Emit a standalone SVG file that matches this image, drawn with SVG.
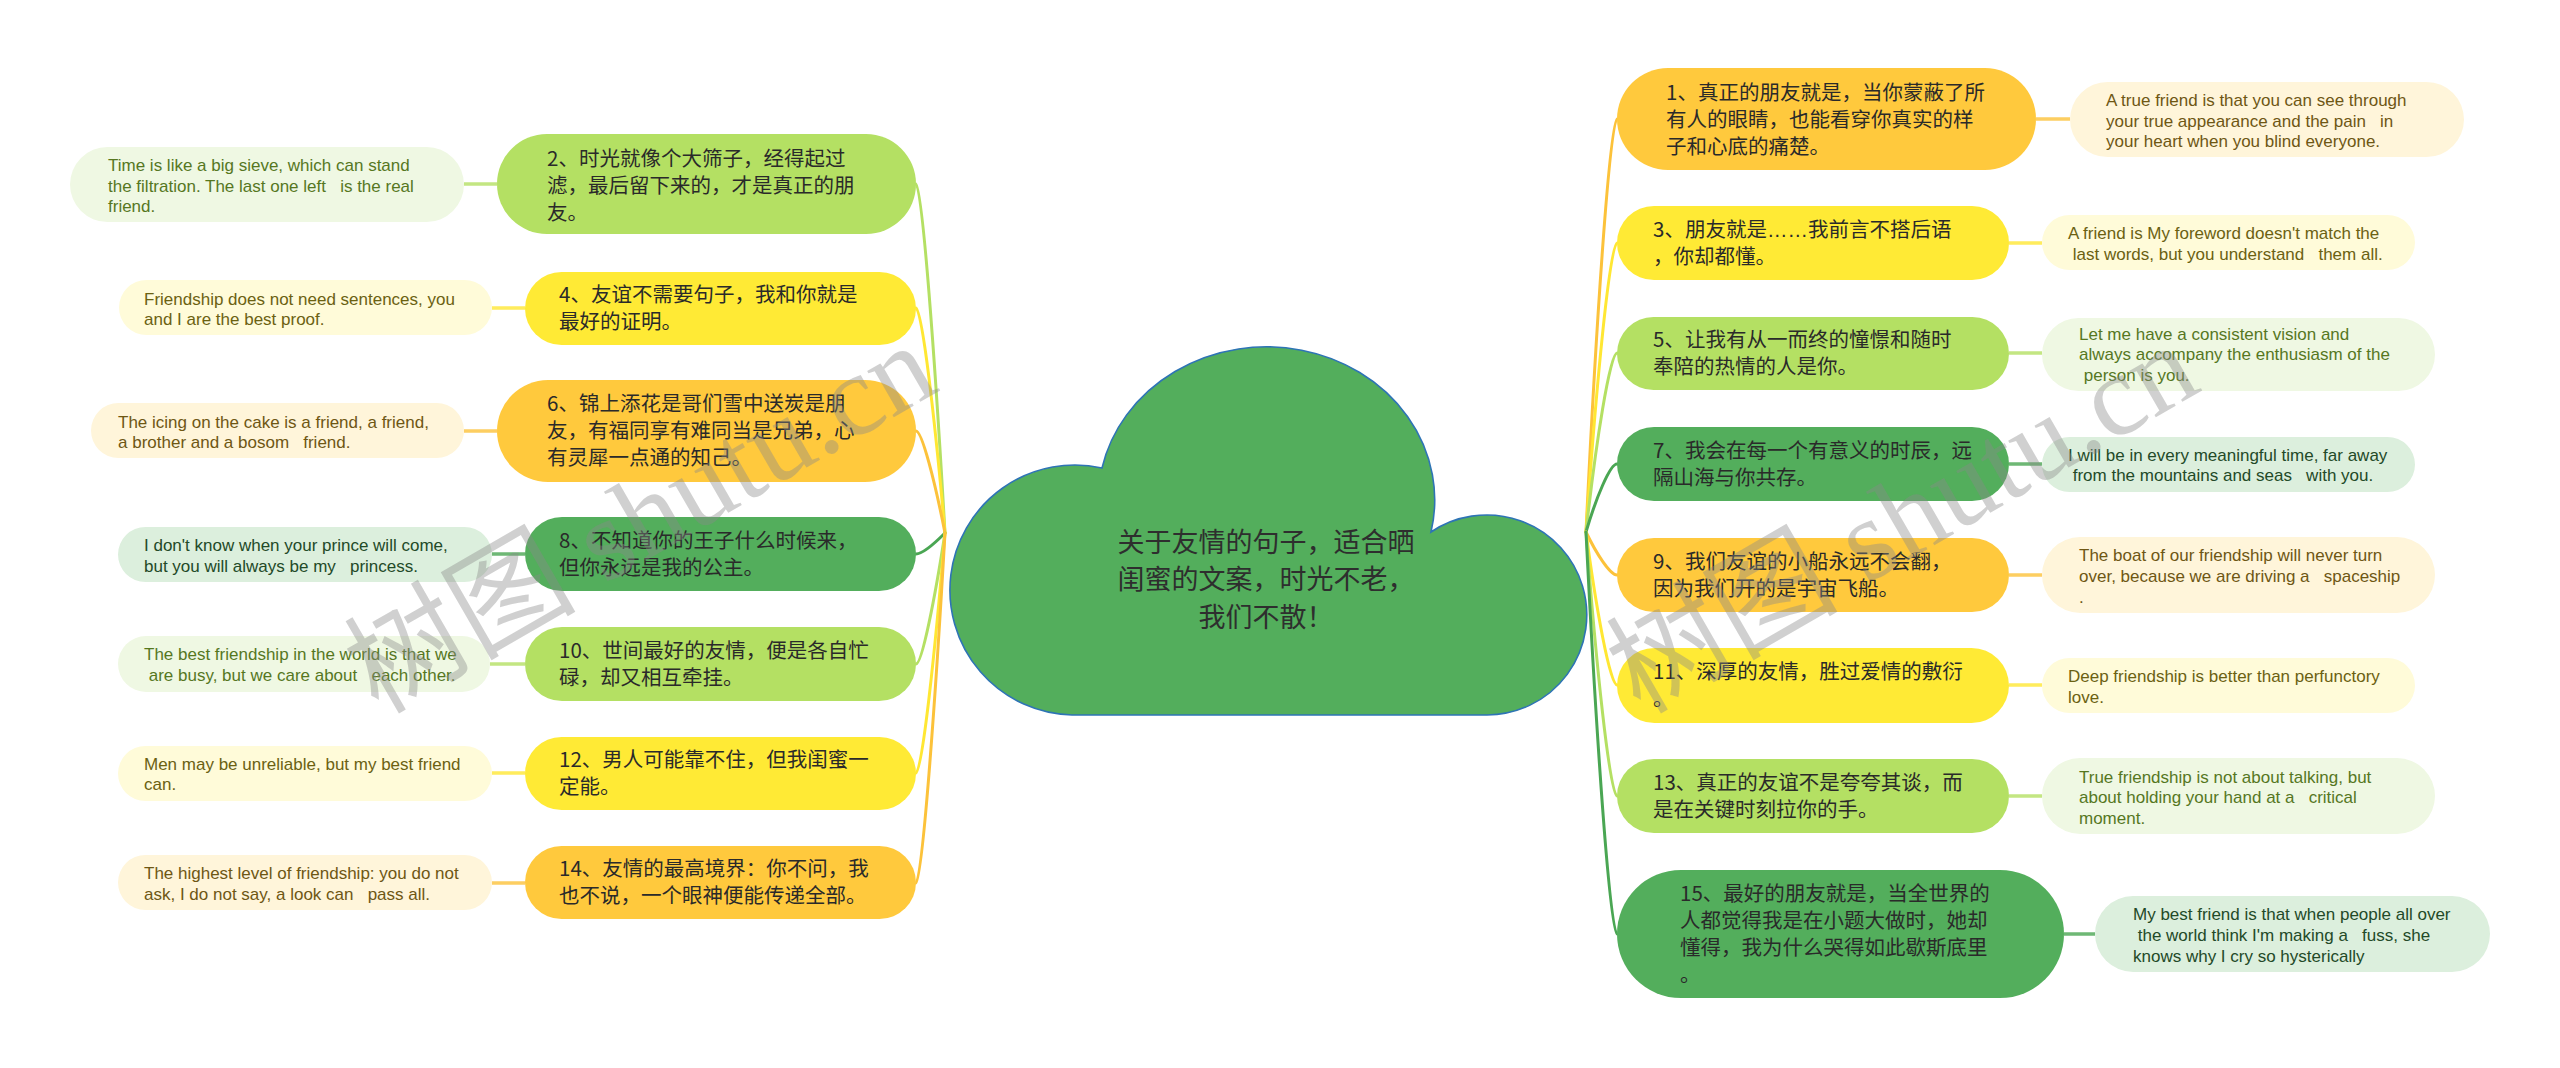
<svg xmlns="http://www.w3.org/2000/svg" width="2560" height="1068" viewBox="0 0 2560 1068">
<style>
.bg{fill:#ffffff}
.t{font-family:"Noto Sans CJK SC","Noto Sans",sans-serif;font-size:20.5px;fill:#2a2a2a}
.rt{font-family:"Noto Sans CJK SC","Noto Sans",sans-serif;font-size:27px;fill:#2e2e2e}
.e{font-family:"Liberation Sans",Arial,sans-serif;font-size:17px}
.ell{font-family:"Liberation Sans",Arial,sans-serif}
.mLG{fill:#b4e063}.mYL{fill:#ffea35}.mOR{fill:#ffc93d}.mDG{fill:#53ae5c}
.lLG{fill:#eff8e3}.lYL{fill:#fffbd9}.lOR{fill:#fff5da}.lDG{fill:#dcefdd}
.tLG{fill:#56771f}.tYL{fill:#6b6112}.tOR{fill:#6e5714}.tDG{fill:#234a28}
.c{fill:none;stroke-width:3;stroke-linecap:round}
.cLG{stroke:#b4e063}.cYL{stroke:#ffe733}.cOR{stroke:#fcc23a}.cDG{stroke:#4aa653}
.s{fill:none;stroke-width:3.5;opacity:.8}
.wm{font-family:"Liberation Serif","Noto Sans CJK SC",serif;font-size:116px;fill:#8a8a8a;fill-opacity:.4}
</style>
<rect class="bg" x="0" y="0" width="2560" height="1068"/>

<g id="connectors">
<path class="c cLG" d="M945 533 C935 358 922 184 916 184"/>
<path class="c cYL" d="M945 533 C935 420 922 308 916 308"/>
<path class="c cOR" d="M945 533 C935 482 922 431 916 431"/>
<path class="c cDG" d="M945 533 C935 543 922 554 916 554"/>
<path class="c cLG" d="M945 533 C935 598 922 664 916 664"/>
<path class="c cYL" d="M945 533 C935 653 922 773 916 773"/>
<path class="c cOR" d="M945 533 C935 708 922 883 916 883"/>

<path class="c cOR" d="M1586 532 C1596 325 1610 119 1617 119"/>
<path class="c cYL" d="M1586 532 C1596 387 1610 243 1617 243"/>
<path class="c cLG" d="M1586 532 C1596 442 1610 353 1617 353"/>
<path class="c cDG" d="M1586 532 C1596 498 1610 464 1617 464"/>
<path class="c cOR" d="M1586 532 C1596 553 1610 575 1617 575"/>
<path class="c cYL" d="M1586 532 C1596 608 1610 685 1617 685"/>
<path class="c cLG" d="M1586 532 C1596 664 1610 796 1617 796"/>
<path class="c cDG" d="M1586 532 C1596 733 1610 934 1617 934"/>

<path class="s cLG" d="M464 184 H497"/>
<path class="s cYL" d="M492 308 H525"/>
<path class="s cOR" d="M464 431 H497"/>
<path class="s cDG" d="M492 554 H525"/>
<path class="s cLG" d="M490 664 H525"/>
<path class="s cYL" d="M492 773 H525"/>
<path class="s cOR" d="M492 883 H525"/>

<path class="s cOR" d="M2036 119 H2070"/>
<path class="s cYL" d="M2009 243 H2042"/>
<path class="s cLG" d="M2009 353 H2042"/>
<path class="s cDG" d="M2009 464 H2042"/>
<path class="s cOR" d="M2009 575 H2042"/>
<path class="s cYL" d="M2009 685 H2042"/>
<path class="s cLG" d="M2009 796 H2042"/>
<path class="s cDG" d="M2064 934 H2095"/>
</g>

<g id="root">
<path d="M1102 468 A168 153 0 0 1 1431 532 A100 100 0 1 1 1487 715 L1072 715 A125 125 0 1 1 1102 468 Z" fill="#53ae5c" stroke="#2e74b5" stroke-width="1.6"/>
<text class="rt" text-anchor="middle"><tspan x="1266" y="552">关于友情的句子，适合晒</tspan><tspan x="1266" y="589">闺蜜的文案，时光不老，</tspan><tspan x="1266" y="627">我们不散！</tspan></text>
</g>

<g id="n2">
<rect class="mLG" x="497" y="134" width="419" height="100" rx="50"/>
<text class="t"><tspan x="547" y="166">2、时光就像个大筛子，经得起过</tspan><tspan x="547" y="193">滤，最后留下来的，才是真正的朋</tspan><tspan x="547" y="220">友。</tspan></text>
</g>
<g id="l2">
<rect class="lLG" x="70" y="147" width="394" height="75" rx="37.5"/>
<text class="e tLG" xml:space="preserve"><tspan x="108" y="171">Time is like a big sieve, which can stand</tspan><tspan x="108" y="192">the filtration. The last one left   is the real</tspan><tspan x="108" y="212">friend.</tspan></text>
</g>

<g id="n4">
<rect class="mYL" x="525" y="272" width="391" height="73" rx="36.5"/>
<text class="t"><tspan x="559" y="302">4、友谊不需要句子，我和你就是</tspan><tspan x="559" y="329">最好的证明。</tspan></text>
</g>
<g id="l4">
<rect class="lYL" x="119" y="280" width="373" height="55" rx="27.5"/>
<text class="e tYL" xml:space="preserve"><tspan x="144" y="305">Friendship does not need sentences, you</tspan><tspan x="144" y="325">and I are the best proof.</tspan></text>
</g>

<g id="n6">
<rect class="mOR" x="497" y="380" width="419" height="102" rx="51"/>
<text class="t"><tspan x="547" y="411">6、锦上添花是哥们雪中送炭是朋</tspan><tspan x="547" y="438">友，有福同享有难同当是兄弟，心</tspan><tspan x="547" y="465">有灵犀一点通的知己。</tspan></text>
</g>
<g id="l6">
<rect class="lOR" x="91" y="403" width="373" height="55" rx="27.5"/>
<text class="e tOR" xml:space="preserve"><tspan x="118" y="428">The icing on the cake is a friend, a friend,</tspan><tspan x="118" y="448">a brother and a bosom   friend.</tspan></text>
</g>

<g id="n8">
<rect class="mDG" x="525" y="517" width="391" height="74" rx="37"/>
<text class="t"><tspan x="559" y="548">8、不知道你的王子什么时候来，</tspan><tspan x="559" y="575">但你永远是我的公主。</tspan></text>
</g>
<g id="l8">
<rect class="lDG" x="118" y="527" width="374" height="55" rx="27.5"/>
<text class="e tDG" xml:space="preserve"><tspan x="144" y="551">I don't know when your prince will come,</tspan><tspan x="144" y="572">but you will always be my   princess.</tspan></text>
</g>

<g id="n10">
<rect class="mLG" x="525" y="627" width="391" height="74" rx="37"/>
<text class="t"><tspan x="559" y="658">10、世间最好的友情，便是各自忙</tspan><tspan x="559" y="685">碌，却又相互牵挂。</tspan></text>
</g>
<g id="l10">
<rect class="lLG" x="118" y="636" width="372" height="56" rx="28"/>
<text class="e tLG" xml:space="preserve"><tspan x="144" y="660">The best friendship in the world is that we</tspan><tspan x="144" y="681"> are busy, but we care about   each other.</tspan></text>
</g>

<g id="n12">
<rect class="mYL" x="525" y="737" width="391" height="73" rx="36.5"/>
<text class="t"><tspan x="559" y="767">12、男人可能靠不住，但我闺蜜一</tspan><tspan x="559" y="794">定能。</tspan></text>
</g>
<g id="l12">
<rect class="lYL" x="118" y="746" width="374" height="55" rx="27.5"/>
<text class="e tYL" xml:space="preserve"><tspan x="144" y="770">Men may be unreliable, but my best friend</tspan><tspan x="144" y="790">can.</tspan></text>
</g>

<g id="n14">
<rect class="mOR" x="525" y="846" width="391" height="73" rx="36.5"/>
<text class="t"><tspan x="559" y="876">14、友情的最高境界：你不问，我</tspan><tspan x="559" y="903">也不说，一个眼神便能传递全部。</tspan></text>
</g>
<g id="l14">
<rect class="lOR" x="118" y="855" width="374" height="55" rx="27.5"/>
<text class="e tOR" xml:space="preserve"><tspan x="144" y="879">The highest level of friendship: you do not</tspan><tspan x="144" y="900">ask, I do not say, a look can   pass all.</tspan></text>
</g>

<g id="n1">
<rect class="mOR" x="1617" y="68" width="419" height="102" rx="51"/>
<text class="t"><tspan x="1666" y="100">1、真正的朋友就是，当你蒙蔽了所</tspan><tspan x="1666" y="127">有人的眼睛，也能看穿你真实的样</tspan><tspan x="1666" y="154">子和心底的痛楚。</tspan></text>
</g>
<g id="r1">
<rect class="lOR" x="2070" y="82" width="394" height="75" rx="37.5"/>
<text class="e tOR" xml:space="preserve"><tspan x="2106" y="106">A true friend is that you can see through</tspan><tspan x="2106" y="127">your true appearance and the pain   in</tspan><tspan x="2106" y="147">your heart when you blind everyone.</tspan></text>
</g>

<g id="n3">
<rect class="mYL" x="1617" y="206" width="392" height="74" rx="37"/>
<text class="t"><tspan x="1653" y="237">3、朋友就是<tspan class="ell">……</tspan>我前言不搭后语</tspan><tspan x="1653" y="264">，你却都懂。</tspan></text>
</g>
<g id="r3">
<rect class="lYL" x="2042" y="215" width="373" height="55" rx="27.5"/>
<text class="e tYL" xml:space="preserve"><tspan x="2068" y="239">A friend is My foreword doesn't match the</tspan><tspan x="2068" y="260"> last words, but you understand   them all.</tspan></text>
</g>

<g id="n5">
<rect class="mLG" x="1617" y="317" width="392" height="73" rx="36.5"/>
<text class="t"><tspan x="1653" y="347">5、让我有从一而终的憧憬和随时</tspan><tspan x="1653" y="374">奉陪的热情的人是你。</tspan></text>
</g>
<g id="r5">
<rect class="lLG" x="2042" y="318" width="393" height="73" rx="36.5"/>
<text class="e tLG" xml:space="preserve"><tspan x="2079" y="340">Let me have a consistent vision and</tspan><tspan x="2079" y="360">always accompany the enthusiasm of the</tspan><tspan x="2079" y="381"> person is you.</tspan></text>
</g>

<g id="n7">
<rect class="mDG" x="1617" y="427" width="392" height="74" rx="37"/>
<text class="t"><tspan x="1653" y="458">7、我会在每一个有意义的时辰，远</tspan><tspan x="1653" y="485">隔山海与你共存。</tspan></text>
</g>
<g id="r7">
<rect class="lDG" x="2042" y="437" width="373" height="55" rx="27.5"/>
<text class="e tDG" xml:space="preserve"><tspan x="2068" y="461">I will be in every meaningful time, far away</tspan><tspan x="2068" y="481"> from the mountains and seas   with you.</tspan></text>
</g>

<g id="n9">
<rect class="mOR" x="1617" y="538" width="392" height="74" rx="37"/>
<text class="t"><tspan x="1653" y="569">9、我们友谊的小船永远不会翻，</tspan><tspan x="1653" y="596">因为我们开的是宇宙飞船。</tspan></text>
</g>
<g id="r9">
<rect class="lOR" x="2042" y="537" width="393" height="76" rx="38"/>
<text class="e tOR" xml:space="preserve"><tspan x="2079" y="561">The boat of our friendship will never turn</tspan><tspan x="2079" y="582">over, because we are driving a   spaceship</tspan><tspan x="2079" y="603">.</tspan></text>
</g>

<g id="n11">
<rect class="mYL" x="1617" y="648" width="392" height="75" rx="37.5"/>
<text class="t"><tspan x="1653" y="679">11、深厚的友情，胜过爱情的敷衍</tspan><tspan x="1653" y="706">。</tspan></text>
</g>
<g id="r11">
<rect class="lYL" x="2042" y="658" width="373" height="55" rx="27.5"/>
<text class="e tYL" xml:space="preserve"><tspan x="2068" y="682">Deep friendship is better than perfunctory</tspan><tspan x="2068" y="703">love.</tspan></text>
</g>

<g id="n13">
<rect class="mLG" x="1617" y="759" width="392" height="74" rx="37"/>
<text class="t"><tspan x="1653" y="790">13、真正的友谊不是夸夸其谈，而</tspan><tspan x="1653" y="817">是在关键时刻拉你的手。</tspan></text>
</g>
<g id="r13">
<rect class="lLG" x="2042" y="758" width="393" height="76" rx="38"/>
<text class="e tLG" xml:space="preserve"><tspan x="2079" y="783">True friendship is not about talking, but</tspan><tspan x="2079" y="803">about holding your hand at a   critical</tspan><tspan x="2079" y="824">moment.</tspan></text>
</g>

<g id="n15">
<rect class="mDG" x="1617" y="870" width="447" height="128" rx="64"/>
<text class="t"><tspan x="1680" y="901">15、最好的朋友就是，当全世界的</tspan><tspan x="1680" y="928">人都觉得我是在小题大做时，她却</tspan><tspan x="1680" y="955">懂得，我为什么哭得如此歇斯底里</tspan><tspan x="1680" y="982">。</tspan></text>
</g>
<g id="r15">
<rect class="lDG" x="2095" y="896" width="395" height="76" rx="38"/>
<text class="e tDG" xml:space="preserve"><tspan x="2133" y="920">My best friend is that when people all over</tspan><tspan x="2133" y="941"> the world think I'm making a   fuss, she</tspan><tspan x="2133" y="962">knows why I cry so hysterically</tspan></text>
</g>

<g id="watermark">
<text class="wm" x="378" y="715" transform="rotate(-30 378 715)">树图 shutu.cn</text>
<text class="wm" x="1640" y="715" transform="rotate(-30 1640 715)">树图 shutu.cn</text>
</g>
</svg>
